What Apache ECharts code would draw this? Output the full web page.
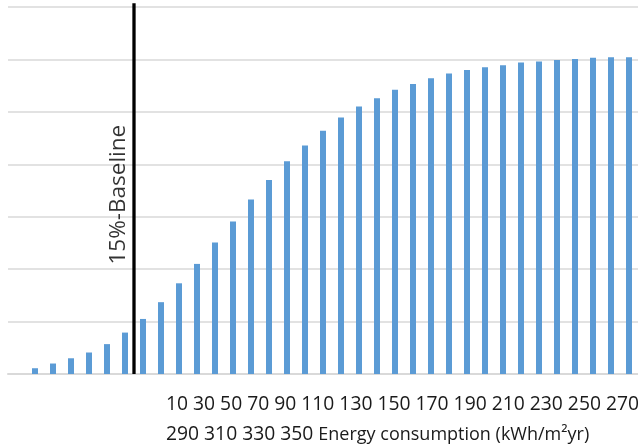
<!DOCTYPE html>
<html>
<head>
<meta charset="utf-8">
<script src="https://cdn.jsdelivr.net/npm/echarts@6/dist/echarts.min.js"></script>
<style>
  html, body { margin: 0; padding: 0; background: #ffffff; }
  #chart { width: 638px; height: 447px; }
</style>
</head>
<body>
<div id="chart"></div>
<script>
// bins of 10 kWh/m2yr, the first one is empty
var categories = ['0', '10', '20', '30', '40', '50', '60', '70', '80', '90', '100', '110',
  '120', '130', '140', '150', '160', '170', '180', '190', '200', '210', '220', '230',
  '240', '250', '260', '270', '280', '290', '300', '310', '320', '330', '340']
var values = ['-', 0.11, 0.2, 0.3, 0.41, 0.57, 0.79, 1.05, 1.37, 1.73, 2.1, 2.51,
  2.91, 3.33, 3.7, 4.06, 4.36, 4.64, 4.89, 5.1, 5.26, 5.42, 5.53, 5.64,
  5.73, 5.8, 5.85, 5.89, 5.94, 5.96, 5.99, 6.01, 6.03, 6.04, 6.04]
var tickLabels = [10, 30, 50, 70, 90, 110, 130, 150, 170, 190, 210, 230, 250, 270,
  290, 310, 330, 350]
var baselineX = 70
var baselineTop = 7.07
var baselineLabelY = 3.42
var baselineName = '15%-Baseline'
var axisName = 'Energy consumption (kWh/m²yr)'

var caption = '{n|' + tickLabels.slice(0, 14).join(' ') + '}\n' +
  '{n|' + tickLabels.slice(14).join(' ') + '} {t|' + axisName + '}'

var chart = echarts.init(document.getElementById('chart'))
chart.setOption({
  animation: false,
  title: {
    text: caption,
    left: 166,
    top: 390,
    padding: 0,
    textStyle: {
      fontFamily: 'Open Sans',
      fontSize: 19.3,
      fontWeight: 'normal',
      color: '#1a1a1a',
      lineHeight: 30,
      rich: {
        n: { fontFamily: 'Open Sans', fontSize: 19.3, color: '#1a1a1a', lineHeight: 30 },
        t: { fontFamily: 'Open Sans', fontSize: 18, color: '#1a1a1a', lineHeight: 30 }
      }
    }
  },
  grid: {
    left: 8,
    right: -2,
    top: 7,
    bottom: 73,
    containLabel: false
  },
  xAxis: [
    {
      type: 'category',
      data: categories,
      axisLine: { lineStyle: { color: '#d9d9d9', width: 2 } },
      axisTick: { show: false },
      axisLabel: { show: false }
    },
    {
      type: 'value',
      min: 0,
      max: 350,
      show: false
    }
  ],
  yAxis: {
    type: 'value',
    min: 0,
    max: 7,
    interval: 1,
    axisLine: { show: false },
    axisTick: { show: false },
    axisLabel: { show: false },
    splitLine: { lineStyle: { color: '#d9d9d9', width: 1.5 } }
  },
  series: [
    {
      type: 'bar',
      data: values,
      barWidth: 6,
      itemStyle: { color: '#5b9bd5' }
    },
    {
      // the 15% baseline, drawn on the hidden value axis
      type: 'line',
      xAxisIndex: 1,
      clip: false,
      silent: true,
      showSymbol: false,
      data: [[baselineX, 0], [baselineX, baselineTop]],
      lineStyle: { color: '#000000', width: 3.3 }
    },
    {
      // its name, written upwards on the left of the line
      type: 'scatter',
      xAxisIndex: 1,
      silent: true,
      symbolSize: 0,
      data: [[baselineX, baselineLabelY]],
      label: {
        show: true,
        formatter: baselineName,
        position: 'left',
        distance: 4,
        rotate: 90,
        align: 'center',
        verticalAlign: 'bottom',
        fontFamily: 'Open Sans',
        fontSize: 22.5,
        color: '#000000'
      }
    }
  ]
})
</script>
</body>
</html>
